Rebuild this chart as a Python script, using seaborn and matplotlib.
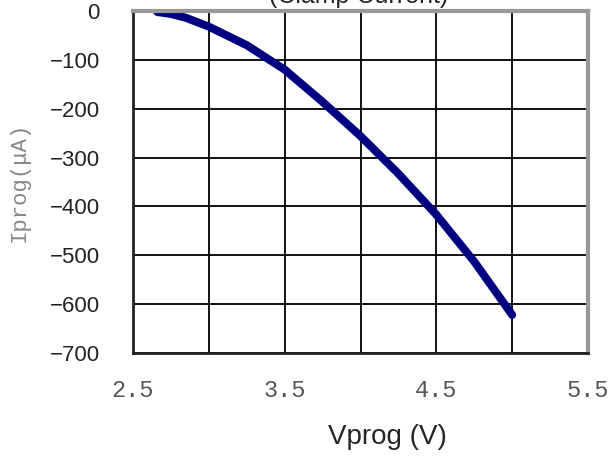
import numpy as np
import pandas as pd
import matplotlib
matplotlib.use('Agg')
import matplotlib.pyplot as plt
import seaborn as sns

# dados
vprog = [2.66, 2.75, 2.85, 3.0, 3.25, 3.5, 3.75, 4.0, 4.25, 4.5, 4.75, 5.0]
iprog = [-2, -6, -14, -32, -70, -120, -186, -256, -333, -417, -513, -622]
xticks_major = [2.5, 3.5, 4.5, 5.5]
xticks_minor = [3.0, 4.0, 5.0]
xtick_labels = ['2.5', '3.5', '4.5', '5.5']
yticks = [0, -100, -200, -300, -400, -500, -600, -700]

df = pd.DataFrame({'Vprog': vprog, 'Iprog': iprog})

sns.set_style('white')
plt.rcParams['font.family'] = ['Liberation Sans', 'DejaVu Sans']

fig = plt.figure(figsize=(6.15, 4.57), dpi=100)
ax = fig.add_axes([0.2163, 0.2276, 0.7398, 0.7483])

sns.lineplot(data=df, x='Vprog', y='Iprog', ax=ax, color='#000080',
             linewidth=5.8, estimator=None, sort=False,
             solid_capstyle='round', solid_joinstyle='round')

ax.set_xlim(2.5, 5.5)
ax.set_ylim(-700, 0)
ax.set_xticks(xticks_major)
ax.set_xticks(xticks_minor, minor=True)
ax.set_xticklabels(xtick_labels, family='Liberation Mono', fontsize=17, color='#555555')
ax.set_yticks(yticks)
ax.tick_params(axis='y', labelsize=16, colors='#222222', length=0, pad=24)
ax.tick_params(axis='x', which='both', length=0, pad=19)
ax.grid(True, which='both', color='black', linewidth=1.3)

for side in ['left', 'bottom']:
    ax.spines[side].set_color('#222222')
    ax.spines[side].set_linewidth(2)
for side in ['top', 'right']:
    ax.spines[side].set_color('#999999')
    ax.spines[side].set_linewidth(3)

ax.set_xlabel('')
ax.set_ylabel('Iprog(μA)', family='Liberation Mono', fontsize=16, color='#888888', labelpad=14)

fig.text(387 / 615, 1 - 437 / 457, 'Vprog (V)', ha='center', va='center', fontsize=20)
# título cortado no topo, como no original
fig.text(359 / 615, 1 - 3 / 457, '(Clamp Current)', ha='center', va='baseline', fontsize=18)

fig.savefig('out.png', dpi=100)
